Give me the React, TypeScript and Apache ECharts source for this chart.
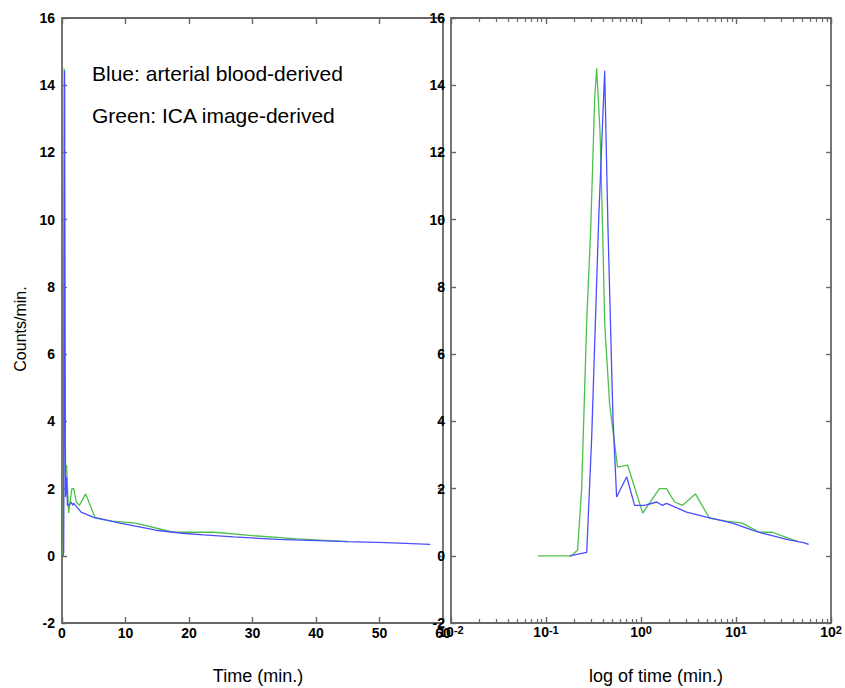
import React, { useEffect, useRef } from "react";
import * as echarts from "echarts";

// Arterial blood-derived input function (blue)
const blueTime = [0.177, 0.268, 0.302, 0.358, 0.414, 0.448, 0.506, 0.553, 0.705, 0.855, 1.09, 1.46, 1.68, 1.85, 3.01, 4.88, 9.14, 14.8, 19, 22.3, 27, 34, 45, 51, 58];
const blueCounts = [0, 0.1, 3.5, 10, 14.43, 9.8, 4.1, 1.75, 2.35, 1.5, 1.5, 1.6, 1.5, 1.56, 1.3, 1.15, 0.97, 0.76, 0.67, 0.62, 0.56, 0.49, 0.42, 0.39, 0.34];

// ICA image-derived input function (green)
const greenTime = [0.082, 0.186, 0.215, 0.237, 0.268, 0.295, 0.325, 0.341, 0.37, 0.394, 0.414, 0.467, 0.566, 0.721, 1.04, 1.56, 1.85, 2.25, 2.73, 3.73, 5.24, 7.9, 11.6, 17.5, 24, 30, 37, 45];
const greenCounts = [0, 0, 0.17, 2.0, 7.0, 9.7, 13.6, 14.5, 12.6, 9.7, 6.9, 4.5, 2.64, 2.7, 1.27, 2.0, 2.0, 1.6, 1.5, 1.84, 1.12, 1.03, 0.97, 0.7, 0.7, 0.6, 0.5, 0.42];

const yMin = -2;
const yMax = 16;
const yStep = 2;
const timeMin = 0;
const timeMax = 60;
const timeStep = 10;
const logMin = 0.01;
const logMax = 100;
const decades = [0.01, 0.1, 1, 10];
const minorMultipliers = [2, 3, 4, 5, 6, 7, 8, 9];

const legendLines = ["Blue: arterial blood-derived", "Green: ICA image-derived"];
const yTitle = "Counts/min.";
const xTitleLeft = "Time (min.)";
const xTitleRight = "log of time (min.)";

const BLUE = "#4d4dff";
const GREEN = "#4cc04c";
const AXIS = "#666666";
const FONT = "Arial, 'Liberation Sans', Helvetica, sans-serif";

export default function App() {
  const ref = useRef<HTMLDivElement>(null);

  useEffect(() => {
    const chart = echarts.init(ref.current!, null, { renderer: "svg" });

    // minor log ticks as short markLine segments (~4px of 605px for 18 units)
    const tickLen = ((yMax - yMin) / 605) * 4;
    const minorSegments: any[] = [];
    decades.forEach((d) =>
      minorMultipliers.forEach((m) => {
        const t = d * m;
        minorSegments.push([{ coord: [t, yMin] }, { coord: [t, yMin + tickLen] }]);
        minorSegments.push([{ coord: [t, yMax] }, { coord: [t, yMax - tickLen] }]);
      })
    );

    const axisLine = { show: true, onZero: false, lineStyle: { color: AXIS, width: 1.8 } };
    const axisTick = { show: true, inside: true, length: 5, lineStyle: { color: AXIS, width: 1.4 } };
    const tickLabel = { color: "#000", fontWeight: "bold" as const, fontSize: 14, fontFamily: FONT };

    const valueX = (grid: number, pos: "bottom" | "top", labels: boolean) => ({
      type: "value",
      gridIndex: grid,
      position: pos,
      min: timeMin,
      max: timeMax,
      interval: timeStep,
      axisLine,
      axisTick: { ...axisTick, length: 6 },
      splitLine: { show: false },
      axisLabel: labels ? { ...tickLabel, margin: 3 } : { show: false },
    });
    const logX = (grid: number, pos: "bottom" | "top", labels: boolean) => ({
      type: "log",
      logBase: 10,
      gridIndex: grid,
      position: pos,
      min: logMin,
      max: logMax,
      splitNumber: 4,
      axisLine,
      axisTick: { ...axisTick, length: 6 },
      splitLine: { show: false },
      axisLabel: labels
        ? {
            margin: 1,
            formatter: (v: number) => `{b|10}{e|${Math.round(Math.log10(v))}}`,
            rich: {
              b: { ...tickLabel, lineHeight: 15, verticalAlign: "bottom" },
              e: { ...tickLabel, fontSize: 11, lineHeight: 11, padding: [0, 0, 12, 0], verticalAlign: "top" },
            },
          }
        : { show: false },
    });
    const valueY = (grid: number, pos: "left" | "right", labels: boolean, margin: number) => ({
      type: "value",
      gridIndex: grid,
      position: pos,
      min: yMin,
      max: yMax,
      interval: yStep,
      axisLine,
      axisTick,
      splitLine: { show: false },
      axisLabel: labels ? { ...tickLabel, margin } : { show: false },
    });

    const line = (x: number[], y: number[], color: string, xi: number, yi: number, extra: any = {}) => ({
      type: "line",
      xAxisIndex: xi,
      yAxisIndex: yi,
      data: x.map((t, i) => [t, y[i]]),
      symbol: "none",
      showSymbol: false,
      lineStyle: { color, width: 1.3 },
      itemStyle: { color },
      silent: true,
      ...extra,
    });

    chart.setOption({
      animation: false,
      backgroundColor: "#fff",
      grid: [
        { left: 62, top: 18, width: 381, height: 605 },
        { left: 451, top: 18, width: 381, height: 605 },
      ],
      xAxis: [valueX(0, "bottom", true), valueX(0, "top", false), logX(1, "bottom", true), logX(1, "top", false)],
      yAxis: [valueY(0, "left", true, 7), valueY(0, "right", false, 0), valueY(1, "left", true, 6), valueY(1, "right", false, 0)],
      series: [
        line(greenTime, greenCounts, GREEN, 0, 0),
        line(blueTime, blueCounts, BLUE, 0, 0),
        line(greenTime, greenCounts, GREEN, 2, 2, {
          markLine: {
            silent: true,
            symbol: ["none", "none"],
            label: { show: false },
            lineStyle: { color: AXIS, width: 1.2, type: "solid" },
            data: minorSegments,
          },
        }),
        line(blueTime, blueCounts, BLUE, 2, 2),
      ],
      graphic: [
        {
          type: "text",
          x: 92,
          y: 73,
          style: { text: legendLines[0], font: `21px ${FONT}`, fill: "#000", textVerticalAlign: "middle" },
        },
        {
          type: "text",
          x: 92,
          y: 115,
          style: { text: legendLines[1], font: `21px ${FONT}`, fill: "#000", textVerticalAlign: "middle" },
        },
        {
          type: "text",
          x: 20,
          y: 329,
          rotation: Math.PI / 2,
          style: { text: yTitle, font: `16px ${FONT}`, fill: "#000", textAlign: "center", textVerticalAlign: "middle" },
        },
        {
          type: "text",
          x: 258,
          y: 676,
          style: { text: xTitleLeft, font: `18px ${FONT}`, fill: "#000", textAlign: "center", textVerticalAlign: "middle" },
        },
        {
          type: "text",
          x: 656,
          y: 676,
          style: { text: xTitleRight, font: `18px ${FONT}`, fill: "#000", textAlign: "center", textVerticalAlign: "middle" },
        },
      ],
    });

    return () => chart.dispose();
  }, []);

  return (
    <div
      ref={ref}
      style={{ position: "fixed", left: 0, top: 0, width: 845, height: 688, background: "#fff" }}
    />
  );
}
